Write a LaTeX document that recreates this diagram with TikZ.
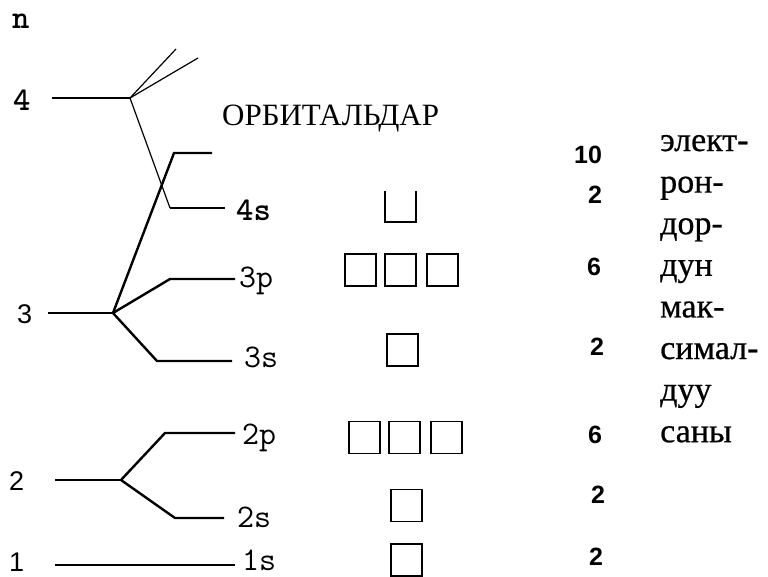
\documentclass[tikz,border=0pt]{standalone}
\usepackage{fontspec}
\setmainfont{Liberation Serif}
\newfontfamily\sansdigits{Liberation Sans}
\newfontfamily\wordfont[FakeBold=0.6]{Liberation Serif}
\begin{document}
\begin{tikzpicture}[x=1pt,y=-1pt,
  thinlevel/.style={line width=1.2pt},
  thicklevel/.style={line width=2.4pt},
  orbbox/.style={draw, line width=1.8pt, minimum width=31pt, minimum height=32pt, inner sep=0pt},
  openbox/.style={minimum width=31pt, minimum height=31pt, inner sep=0pt},
  mono/.style={font=\ttfamily\fontsize{33}{33}\selectfont, inner sep=0pt, anchor=base west},
  monobold/.style={font=\ttfamily\bfseries\fontsize{33}{33}\selectfont, inner sep=0pt, anchor=base west},
  leveldigit/.style={font=\sansdigits\fontsize{27}{27}\selectfont, inner sep=0pt, anchor=base west},
  count/.style={font=\sansdigits\bfseries\fontsize{25}{25}\selectfont, inner sep=0pt, anchor=base west},
  word/.style={font=\wordfont\fontsize{34}{34}\selectfont, inner sep=0pt, anchor=base west},
  title/.style={font=\fontsize{31}{31}\selectfont, inner sep=0pt, anchor=base west}
]
\useasboundingbox[fill=white] (0,0) rectangle (768,576);

% ---- level labels on the left
\node[monobold] (ln) at (12,28) {n};
\node[monobold] (l4) at (13,110) {4};
\node[leveldigit] (l3) at (17,323) {3};
\node[leveldigit] (l2) at (9,490) {2};
\node[leveldigit] (l1) at (9,571) {1};

% ---- branch points and line ends
\coordinate (s4) at (52,98);   \coordinate (p4) at (130,98);
\coordinate (u1) at (176,49);  \coordinate (u2) at (198,58);
\coordinate (c4s) at (170,208); \coordinate (e4s) at (225,208);
\coordinate (s3) at (48,313);  \coordinate (p3) at (113,313);
\coordinate (c3d) at (174,153); \coordinate (e3d) at (212,153);
\coordinate (c3p) at (170,279); \coordinate (e3p) at (235,279);
\coordinate (c3s) at (157,361); \coordinate (e3s) at (232,361);
\coordinate (s2) at (55,480);  \coordinate (p2) at (121,480);
\coordinate (c2p) at (165,433); \coordinate (e2p) at (235,433);
\coordinate (c2s) at (175,518); \coordinate (e2s) at (224,518);
\coordinate (s1) at (55,565);  \coordinate (e1s) at (235,565);

% ---- level n = 4
\draw[thinlevel] (s4) -- (p4);
\draw[thinlevel] (p4) -- (u1);
\draw[thinlevel] (p4) -- (u2);
\draw[thinlevel] (p4) -- (c4s);
\draw[thicklevel] (c4s) -- (e4s);

% ---- level n = 3
\draw[thicklevel] (s3) -- (p3);
\draw[thicklevel] (p3) -- (c3d) -- (e3d);
\draw[thicklevel] (p3) -- (c3p) -- (e3p);
\draw[thicklevel] (p3) -- (c3s) -- (e3s);

% ---- level n = 2
\draw[thinlevel] (s2) -- (p2);
\draw[thicklevel] (p2) -- (c2p) -- (e2p);
\draw[thicklevel] (p2) -- (c2s) -- (e2s);

% ---- level n = 1
\draw[thicklevel] (s1) -- (e1s);

% ---- sublevel labels
\node[monobold] (t4s) at (236,220) {4s};
\node[mono] (t3p) at (239,287) {3p};
\node[mono] (t3s) at (244,367) {3s};
\node[mono] (t2p) at (242,444) {2p};
\node[mono] (t2s) at (237,527) {2s};
\node[mono] (t1s) at (242,570) {1s};

% ---- heading
\node[title] (head) at (222,125) {ОРБИТАЛЬДАР};

% ---- orbital cells
\node[openbox] (b4s) at (400.5,206.5) {};
\draw[line width=1.8pt] (b4s.north west) -- (b4s.south west) -- (b4s.south east) -- (b4s.north east);
\node[orbbox] (b3pa) at (360.5,270) {};
\node[orbbox] (b3pb) at (400.5,270) {};
\node[orbbox] (b3pc) at (442.5,270) {};
\node[orbbox] (b3s) at (402.5,350) {};
\node[orbbox] (b2pa) at (364.5,437.5) {};
\node[orbbox] (b2pb) at (404.5,437.5) {};
\node[orbbox] (b2pc) at (446.5,437.5) {};
\node[orbbox] (b2s) at (406.5,505.5) {};
\node[orbbox] (b1s) at (406.5,560) {};

% ---- electron counts
\node[count] (n10) at (574,163) {10};
\node[count] (n4s) at (588,203) {2};
\node[count] (n3p) at (587,275) {6};
\node[count] (n3s) at (590,355) {2};
\node[count] (n2p) at (588,443) {6};
\node[count] (n2s) at (591,503) {2};
\node[count] (n1s) at (589,565) {2};

% ---- caption of the count column
\node[word] (w1) at (660,151) {элект-};
\node[word] (w2) at (660,192.6) {рон-};
\node[word] (w3) at (660,234.2) {дор-};
\node[word] (w4) at (660,275.8) {дун};
\node[word] (w5) at (660,317.4) {мак-};
\node[word] (w6) at (660,359) {симал-};
\node[word] (w7) at (660,400.6) {дуу};
\node[word] (w8) at (660,442.2) {саны};
\end{tikzpicture}
\end{document}
